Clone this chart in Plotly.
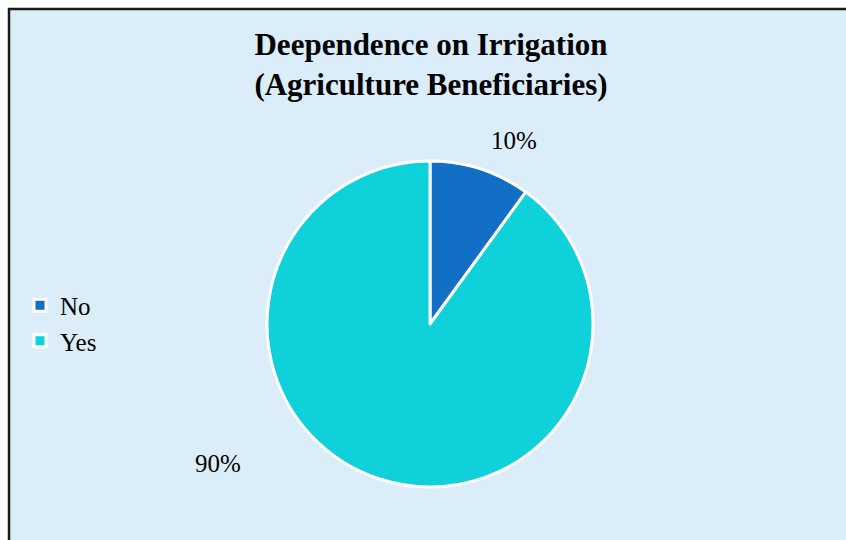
import plotly.graph_objects as go

categories = ["No", "Yes"]
values = [10, 90]
colors = ["#1170C6", "#0FD1D9"]
title_lines = ["Deependence on Irrigation", "(Agriculture Beneficiaries)"]

W, H = 846, 540
cx, cy, r = 430, 324, 163
SERIF = "Liberation Serif, Times New Roman, serif"

fig = go.Figure(go.Pie(
    labels=categories,
    values=values,
    sort=False,
    direction="clockwise",
    rotation=0,
    marker=dict(colors=colors, line=dict(color="white", width=3)),
    textinfo="none",
    hoverinfo="label+percent",
    domain=dict(x=[(cx - r) / W, (cx + r) / W], y=[(H - cy - r) / H, (H - cy + r) / H]),
))

total = sum(values)
label_pos = [(514, 141), (218, 463)]
annotations = []
for v, (px, py) in zip(values, label_pos):
    annotations.append(dict(
        x=px / W, y=1 - py / H, xref="paper", yref="paper",
        text=f"{round(100 * v / total)}%", showarrow=False,
        font=dict(family=SERIF, size=25, color="black"),
        xanchor="center", yanchor="middle",
    ))

fig.update_layout(
    width=W, height=H,
    margin=dict(l=0, r=0, t=0, b=0),
    paper_bgcolor="white",
    plot_bgcolor="white",
    title=dict(
        text="<b>" + "<br>".join(title_lines) + "</b>",
        x=431 / W, xanchor="center",
        y=1 - 54.5 / H, yanchor="middle",
        font=dict(family=SERIF, size=31, color="black"),
    ),
    shapes=[dict(
        type="rect", xref="paper", yref="paper",
        x0=9 / W, x1=1.05, y0=-0.05, y1=1 - 9 / H,
        fillcolor="#DAEDF8", line=dict(color="#1a1a1a", width=2.5), layer="below",
    )],
    legend=dict(
        x=20 / W, y=1 - 323 / H, xanchor="left", yanchor="middle",
        bgcolor="rgba(0,0,0,0)",
        font=dict(family=SERIF, size=25, color="black"),
        itemwidth=30,
    ),
    annotations=annotations,
)

fig.write_html(
    "out.html",
    config={"displayModeBar": False},
    post_script="document.body.style.margin='0';document.body.style.overflow='hidden';",
)
